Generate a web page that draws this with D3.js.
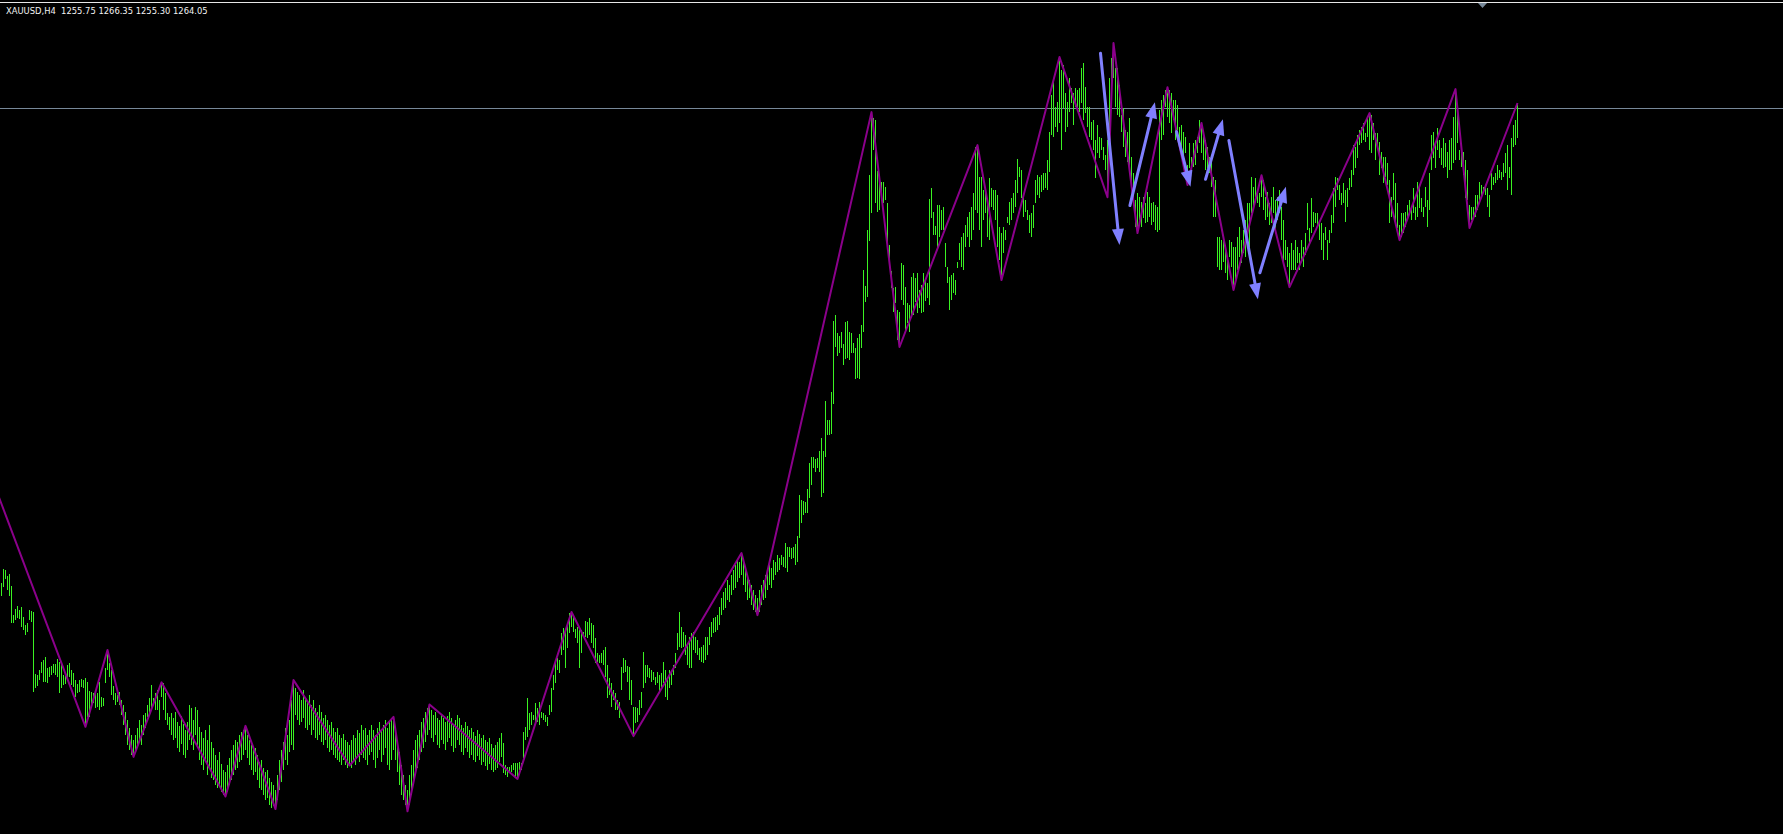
<!DOCTYPE html>
<html>
<head>
<meta charset="utf-8">
<script src="https://cdn.jsdelivr.net/npm/d3@7"></script>
<style>
  body { margin: 0; background: #000; overflow: hidden; }
</style>
</head>
<body>
<svg id="chart"></svg>
<script>
// XAUUSD H4 - bar highs / lows (one value per 4h bar)
const symbol = 'XAUUSD,H4';
const lastBar = [1255.75, 1266.35, 1255.30, 1264.05]; // open high low close
const bidPrice = 1264.7;

const highs = [
  1116.4, 1120.7, 1120.4, 1118.5, 1119.2, 1115.4, 1106.3, 1108.2, 1109.2, 1107.9,
  1108.9, 1105.7, 1103.2, 1103.9, 1107.9, 1107.6, 1107.3, 1087.9, 1087.6, 1089.2,
  1091.7, 1092.3, 1093.2, 1089.8, 1090.1, 1090.4, 1091.0, 1091.0, 1092.6, 1091.7,
  1090.7, 1087.6, 1087.3, 1090.7, 1091.3, 1089.2, 1088.2, 1086.0, 1084.8, 1086.0,
  1086.3, 1086.0, 1086.7, 1085.4, 1082.6, 1082.3, 1082.0, 1082.3, 1082.0, 1085.4,
  1080.7, 1080.4, 1089.8, 1095.4, 1091.3, 1089.2, 1084.2, 1082.0, 1081.4, 1082.3,
  1079.8, 1078.2, 1076.0, 1073.5, 1071.0, 1068.8, 1067.3, 1068.8, 1071.0, 1073.5,
  1071.9, 1075.1, 1075.7, 1078.2, 1080.4, 1084.4, 1080.4, 1081.9, 1082.9, 1079.8,
  1085.4, 1085.1, 1081.9, 1075.7, 1074.4, 1075.7, 1074.1, 1076.0, 1072.9, 1071.6,
  1074.8, 1072.3, 1070.4, 1072.9, 1078.2, 1077.3, 1073.5, 1077.6, 1076.6, 1071.3,
  1069.8, 1067.9, 1070.4, 1067.3, 1071.9, 1066.6, 1064.8, 1062.6, 1061.0, 1063.5,
  1059.8, 1057.9, 1057.3, 1059.4, 1061.6, 1064.1, 1065.7, 1067.3, 1066.6, 1068.8,
  1069.8, 1070.4, 1071.7, 1068.8, 1067.3, 1065.7, 1064.1, 1064.8, 1062.6, 1060.4,
  1061.0, 1058.5, 1057.3, 1057.9, 1055.4, 1054.1, 1053.2, 1051.6, 1056.3, 1061.0,
  1064.1, 1066.6, 1071.0, 1068.8, 1073.5, 1079.8, 1086.0, 1083.5, 1082.3, 1081.3,
  1079.8, 1082.9, 1080.4, 1079.1, 1081.3, 1078.2, 1079.8, 1077.3, 1076.0, 1078.2,
  1076.0, 1074.1, 1075.1, 1073.5, 1071.9, 1072.9, 1071.0, 1069.8, 1071.0, 1068.8,
  1067.9, 1069.1, 1067.3, 1066.6, 1065.7, 1067.3, 1068.8, 1067.9, 1070.4, 1069.4,
  1071.9, 1070.4, 1071.0, 1068.8, 1070.4, 1071.9, 1070.4, 1068.8, 1071.0, 1072.9,
  1070.4, 1071.9, 1073.5, 1071.0, 1072.9, 1073.5, 1074.5, 1070.4, 1067.3, 1063.5,
  1059.4, 1056.3, 1053.2, 1051.6, 1056.3, 1059.4, 1064.1, 1067.3, 1068.8, 1070.4,
  1072.9, 1074.1, 1076.0, 1077.3, 1078.4, 1076.6, 1075.1, 1076.0, 1074.1, 1073.5,
  1075.4, 1074.1, 1072.9, 1074.8, 1076.0, 1074.1, 1072.3, 1073.5, 1075.1, 1074.1,
  1071.9, 1071.0, 1072.9, 1071.6, 1070.4, 1071.0, 1069.8, 1068.5, 1070.4, 1069.1,
  1067.9, 1068.8, 1067.3, 1066.6, 1067.9, 1066.0, 1064.8, 1065.7, 1066.6, 1067.9,
  1069.4, 1066.3, 1059.4, 1058.8, 1058.8, 1059.4, 1060.1, 1060.1, 1060.1, 1060.4,
  1060.1, 1069.8, 1071.3, 1080.4, 1075.7, 1076.0, 1075.1, 1078.8, 1077.3, 1079.1,
  1076.0, 1075.7, 1075.1, 1074.4, 1078.2, 1083.5, 1087.6, 1092.3, 1092.9, 1092.3,
  1100.7, 1102.3, 1101.6, 1103.2, 1106.9, 1107.3, 1106.3, 1101.9, 1102.6, 1101.6,
  1101.6, 1101.0, 1104.4, 1104.1, 1105.4, 1103.8, 1103.2, 1099.1, 1094.4, 1093.8,
  1094.4, 1095.4, 1096.3, 1090.7, 1086.6, 1085.1, 1082.9, 1081.9, 1079.8, 1079.1,
  1090.1, 1092.9, 1092.3, 1090.4, 1090.1, 1086.0, 1077.6, 1077.6, 1077.3, 1079.8,
  1082.3, 1094.8, 1090.7, 1090.7, 1089.8, 1089.1, 1088.5, 1086.9, 1088.5, 1087.6,
  1088.2, 1091.6, 1089.1, 1086.6, 1089.1, 1088.5, 1090.7, 1094.4, 1100.7, 1107.3,
  1102.6, 1101.0, 1100.1, 1096.9, 1099.4, 1100.7, 1101.0, 1099.4, 1098.5, 1096.0,
  1096.3, 1096.9, 1099.4, 1099.4, 1102.6, 1104.1, 1105.4, 1105.7, 1106.3, 1108.8,
  1111.6, 1113.5, 1114.8, 1117.3, 1115.7, 1118.8, 1120.4, 1121.9, 1123.5, 1122.9,
  1125.7, 1123.5, 1121.0, 1118.8, 1117.3, 1115.7, 1114.1, 1112.6, 1111.6, 1114.1,
  1115.7, 1117.3, 1118.8, 1120.4, 1121.9, 1121.0, 1123.5, 1122.9, 1125.1, 1124.1,
  1125.1, 1124.4, 1128.8, 1127.6, 1127.6, 1127.3, 1127.6, 1128.5, 1131.0, 1143.8,
  1142.3, 1141.9, 1141.6, 1145.7, 1153.8, 1155.7, 1155.7, 1155.1, 1155.4, 1157.6,
  1161.6, 1157.6, 1173.2, 1167.3, 1167.3, 1176.0, 1198.2, 1200.1, 1194.4, 1193.5,
  1194.8, 1191.0, 1197.9, 1198.2, 1194.8, 1194.4, 1191.3, 1189.8, 1192.9, 1194.1,
  1196.9, 1214.1, 1209.1, 1226.6, 1243.8, 1263.5, 1261.6, 1261.0, 1245.1, 1242.9,
  1241.6, 1241.6, 1240.1, 1235.1, 1221.9, 1213.8, 1208.5, 1208.8, 1201.6, 1201.0,
  1216.3, 1215.7, 1208.8, 1203.8, 1203.2, 1211.9, 1213.2, 1211.6, 1213.2, 1207.9,
  1209.4, 1213.2, 1211.6, 1210.1, 1236.3, 1239.8, 1232.3, 1227.9, 1234.4, 1234.4,
  1232.9, 1233.8, 1222.6, 1215.1, 1211.9, 1212.6, 1213.2, 1211.0, 1216.6, 1222.6,
  1224.4, 1225.7, 1228.2, 1230.7, 1232.3, 1233.8, 1238.2, 1252.6, 1253.2, 1243.2,
  1243.2, 1239.1, 1240.1, 1236.0, 1242.9, 1239.8, 1239.1, 1239.1, 1237.6, 1227.6,
  1225.7, 1227.6, 1226.6, 1230.7, 1235.4, 1236.6, 1238.2, 1242.3, 1248.8, 1246.3,
  1245.4, 1237.6, 1236.0, 1232.9, 1231.3, 1231.9, 1234.4, 1242.3, 1243.8, 1243.2,
  1243.8, 1244.4, 1244.4, 1248.5, 1257.3, 1268.8, 1273.5, 1265.1, 1266.6, 1280.7,
  1276.6, 1278.2, 1269.4, 1266.6, 1274.1, 1271.0, 1269.4, 1271.0, 1270.4, 1271.0,
  1277.3, 1278.8, 1271.3, 1265.1, 1265.1, 1260.4, 1261.0, 1254.8, 1259.4, 1255.7,
  1255.4, 1252.6, 1250.1, 1254.8, 1274.1, 1280.4, 1285.1, 1277.3, 1277.3, 1271.9,
  1262.6, 1264.8, 1257.9, 1257.3, 1261.6, 1249.4, 1244.4, 1236.0, 1238.2, 1236.9,
  1235.4, 1236.9, 1235.1, 1238.5, 1236.9, 1235.1, 1235.4, 1234.4, 1233.8, 1264.1,
  1267.3, 1268.8, 1270.4, 1271.3, 1270.4, 1269.4, 1267.3, 1267.3, 1265.7, 1258.8,
  1259.4, 1257.3, 1255.7, 1246.9, 1253.8, 1249.4, 1253.8, 1254.8, 1255.7, 1261.0,
  1260.1, 1256.9, 1254.8, 1252.6, 1249.4, 1248.5, 1243.2, 1242.3, 1224.4, 1224.4,
  1223.5, 1223.5, 1221.9, 1217.3, 1223.5, 1222.9, 1221.3, 1221.3, 1224.4, 1227.6,
  1223.5, 1226.6, 1229.8, 1235.1, 1235.1, 1243.2, 1240.1, 1242.9, 1238.5, 1238.2,
  1243.8, 1242.3, 1236.9, 1238.5, 1235.1, 1236.9, 1240.1, 1236.0, 1236.9, 1239.1,
  1233.8, 1229.8, 1223.5, 1221.3, 1219.4, 1222.6, 1220.4, 1223.5, 1221.3, 1219.4,
  1223.5, 1221.3, 1225.7, 1235.1, 1227.3, 1236.6, 1232.3, 1231.9, 1231.9, 1229.1,
  1228.8, 1225.7, 1227.6, 1223.5, 1226.6, 1231.3, 1239.8, 1243.2, 1242.9, 1240.7,
  1238.2, 1241.3, 1239.1, 1239.8, 1242.9, 1245.4, 1253.2, 1252.6, 1256.3, 1257.9,
  1258.8, 1260.1, 1256.9, 1261.6, 1263.2, 1262.6, 1260.1, 1256.9, 1256.9, 1254.1,
  1251.0, 1249.4, 1249.4, 1247.6, 1242.3, 1236.9, 1244.4, 1241.3, 1235.1, 1228.2,
  1231.9, 1231.9, 1232.3, 1234.4, 1236.0, 1233.8, 1239.8, 1233.8, 1241.6, 1240.1,
  1236.6, 1233.8, 1240.1, 1236.0, 1244.4, 1256.3, 1257.3, 1253.8, 1258.5, 1254.8,
  1252.3, 1255.4, 1253.8, 1251.0, 1254.8, 1255.4, 1261.9, 1270.7, 1264.8, 1251.6,
  1251.6, 1251.0, 1248.5, 1245.4, 1234.4, 1233.8, 1233.8, 1237.6, 1237.6, 1241.6,
  1240.7, 1240.1, 1240.1, 1239.8, 1237.6, 1244.4, 1243.2, 1244.4, 1246.9, 1245.4,
  1244.8, 1247.6, 1250.7, 1253.2, 1246.3, 1255.4, 1259.4, 1261.0, 1266.35
];

const lows = [
  1112.3, 1115.1, 1117.6, 1114.2, 1112.3, 1103.9, 1103.9, 1104.8, 1105.4, 1105.1,
  1102.6, 1101.7, 1100.1, 1101.0, 1104.8, 1104.2, 1082.3, 1083.5, 1084.2, 1086.0,
  1088.2, 1085.4, 1085.4, 1085.1, 1087.0, 1087.6, 1088.2, 1087.6, 1087.0, 1082.0,
  1083.5, 1084.5, 1084.8, 1086.7, 1087.0, 1084.5, 1083.9, 1080.7, 1082.0, 1082.3,
  1083.9, 1083.5, 1071.4, 1074.5, 1074.5, 1077.3, 1078.9, 1077.3, 1077.6, 1076.7,
  1077.6, 1077.9, 1085.1, 1089.2, 1087.0, 1081.4, 1079.8, 1078.2, 1079.2, 1078.2,
  1075.1, 1071.9, 1068.8, 1065.7, 1064.1, 1062.6, 1062.0, 1063.5, 1064.8, 1067.3,
  1065.7, 1068.8, 1071.0, 1074.4, 1075.7, 1076.6, 1078.2, 1076.6, 1076.6, 1073.5,
  1080.7, 1076.6, 1073.5, 1071.9, 1070.4, 1068.8, 1067.3, 1067.9, 1064.8, 1063.5,
  1066.0, 1062.6, 1061.6, 1064.1, 1067.3, 1065.7, 1064.1, 1068.8, 1065.7, 1061.0,
  1059.4, 1057.9, 1060.4, 1056.3, 1058.5, 1055.4, 1054.8, 1053.2, 1052.3, 1052.9,
  1051.0, 1050.1, 1049.6, 1051.0, 1053.2, 1054.8, 1056.3, 1057.9, 1058.5, 1060.4,
  1061.0, 1062.6, 1064.1, 1061.6, 1059.4, 1057.9, 1056.3, 1057.3, 1054.8, 1052.3,
  1051.6, 1050.1, 1048.5, 1049.1, 1046.9, 1046.0, 1046.6, 1045.7, 1048.5, 1051.6,
  1054.1, 1057.9, 1061.0, 1059.4, 1063.5, 1065.7, 1064.1, 1075.1, 1073.5, 1071.9,
  1072.9, 1074.1, 1071.0, 1070.4, 1071.9, 1068.8, 1070.4, 1067.9, 1067.3, 1068.8,
  1066.6, 1065.7, 1067.3, 1064.8, 1063.5, 1064.1, 1062.6, 1061.6, 1061.0, 1060.4,
  1059.4, 1061.0, 1059.4, 1058.5, 1059.3, 1058.5, 1061.0, 1059.4, 1061.6, 1060.4,
  1062.6, 1061.6, 1061.0, 1059.4, 1062.6, 1063.5, 1061.0, 1058.5, 1061.6, 1064.1,
  1060.4, 1062.6, 1064.8, 1059.4, 1057.9, 1061.0, 1064.1, 1061.0, 1057.3, 1053.2,
  1050.1, 1048.5, 1046.9, 1045.0, 1046.9, 1050.1, 1053.2, 1056.3, 1058.5, 1061.0,
  1063.5, 1064.8, 1066.6, 1068.8, 1070.4, 1067.9, 1066.6, 1068.8, 1065.7, 1064.8,
  1067.3, 1066.0, 1064.1, 1066.6, 1067.9, 1065.4, 1063.5, 1064.8, 1067.3, 1065.7,
  1063.5, 1062.6, 1064.8, 1063.5, 1061.6, 1062.6, 1061.0, 1060.4, 1062.3, 1061.0,
  1059.4, 1060.4, 1059.1, 1057.9, 1059.8, 1057.9, 1057.3, 1057.9, 1058.5, 1060.4,
  1061.9, 1056.9, 1056.3, 1055.7, 1056.9, 1057.3, 1057.9, 1055.7, 1055.1, 1057.9,
  1057.9, 1061.6, 1067.3, 1068.2, 1070.4, 1071.9, 1073.5, 1072.3, 1072.9, 1071.9,
  1074.1, 1073.5, 1072.9, 1071.6, 1075.1, 1076.0, 1082.9, 1085.1, 1089.1, 1088.2,
  1093.8, 1095.4, 1089.8, 1096.0, 1100.7, 1102.6, 1101.0, 1099.1, 1097.6, 1089.8,
  1094.4, 1099.4, 1099.4, 1099.1, 1100.1, 1097.6, 1096.0, 1091.3, 1091.6, 1091.3,
  1091.3, 1090.7, 1086.9, 1080.4, 1081.3, 1077.6, 1079.8, 1076.6, 1076.6, 1074.1,
  1082.9, 1088.2, 1088.5, 1085.4, 1079.8, 1078.2, 1068.5, 1072.6, 1072.9, 1075.1,
  1077.3, 1083.5, 1085.1, 1086.9, 1086.6, 1085.4, 1086.0, 1084.4, 1085.1, 1082.3,
  1083.8, 1085.1, 1080.7, 1079.8, 1083.5, 1084.4, 1087.6, 1089.8, 1095.4, 1096.3,
  1096.0, 1096.3, 1093.8, 1090.7, 1089.8, 1089.8, 1095.4, 1094.4, 1093.8, 1092.3,
  1091.6, 1091.3, 1092.3, 1093.8, 1097.0, 1099.4, 1100.7, 1101.0, 1101.6, 1103.2,
  1106.3, 1107.9, 1108.5, 1111.0, 1110.4, 1112.6, 1114.1, 1114.8, 1116.6, 1117.9,
  1118.8, 1115.7, 1113.5, 1111.0, 1111.6, 1109.4, 1107.9, 1107.3, 1106.3, 1107.3,
  1109.4, 1111.0, 1111.6, 1114.1, 1115.7, 1114.8, 1117.3, 1118.8, 1119.8, 1120.4,
  1121.9, 1121.3, 1121.0, 1119.8, 1124.4, 1123.8, 1124.1, 1121.9, 1122.9, 1130.4,
  1135.1, 1137.6, 1138.2, 1138.2, 1142.9, 1146.9, 1152.3, 1151.0, 1152.3, 1151.0,
  1143.2, 1144.4, 1155.7, 1162.6, 1162.6, 1162.9, 1172.3, 1190.1, 1187.3, 1188.2,
  1189.8, 1184.4, 1186.3, 1186.6, 1186.0, 1188.2, 1188.2, 1180.1, 1180.4, 1180.1,
  1189.8, 1194.8, 1204.1, 1205.7, 1223.2, 1231.9, 1251.6, 1235.1, 1232.3, 1232.9,
  1237.6, 1235.1, 1236.0, 1221.3, 1217.3, 1208.5, 1201.0, 1203.8, 1192.3, 1190.1,
  1204.8, 1203.2, 1194.4, 1197.6, 1194.8, 1199.4, 1200.1, 1204.1, 1200.7, 1202.3,
  1200.7, 1201.0, 1204.4, 1205.4, 1203.2, 1230.4, 1225.1, 1225.1, 1221.3, 1224.4,
  1226.6, 1226.6, 1215.1, 1210.1, 1201.6, 1204.8, 1206.9, 1206.3, 1214.8, 1217.3,
  1215.1, 1214.1, 1221.3, 1224.4, 1221.3, 1223.5, 1226.6, 1232.9, 1231.9, 1226.6,
  1221.3, 1229.8, 1231.9, 1224.4, 1223.5, 1233.8, 1232.9, 1229.8, 1221.3, 1217.3,
  1211.0, 1219.4, 1223.5, 1228.8, 1228.2, 1229.8, 1231.9, 1233.8, 1238.2, 1243.2,
  1236.6, 1230.7, 1232.3, 1229.8, 1225.7, 1224.4, 1227.3, 1235.1, 1237.6, 1236.6,
  1238.5, 1239.1, 1239.8, 1239.1, 1244.8, 1256.3, 1255.7, 1258.8, 1257.3, 1260.1,
  1251.6, 1264.8, 1257.3, 1258.8, 1263.5, 1266.3, 1259.4, 1265.1, 1264.8, 1263.5,
  1266.3, 1261.0, 1263.2, 1258.8, 1255.7, 1254.8, 1251.6, 1242.9, 1250.7, 1249.1,
  1251.6, 1248.5, 1245.4, 1236.9, 1257.9, 1269.4, 1274.1, 1265.1, 1262.6, 1261.9,
  1257.3, 1252.6, 1249.4, 1247.9, 1244.4, 1241.3, 1236.9, 1227.6, 1225.7, 1229.8,
  1227.6, 1230.4, 1228.8, 1229.1, 1230.7, 1228.2, 1229.1, 1226.6, 1226.0, 1226.6,
  1254.8, 1256.3, 1265.1, 1261.9, 1260.1, 1256.9, 1261.0, 1254.8, 1257.9, 1254.1,
  1251.6, 1250.1, 1250.7, 1240.7, 1246.0, 1244.8, 1246.3, 1246.9, 1250.7, 1253.8,
  1250.7, 1248.5, 1245.4, 1246.0, 1244.4, 1240.1, 1230.7, 1230.7, 1215.1, 1214.1,
  1214.1, 1216.6, 1213.2, 1211.0, 1218.2, 1215.1, 1207.9, 1211.0, 1214.1, 1218.2,
  1216.3, 1219.4, 1218.2, 1226.6, 1221.3, 1231.9, 1232.9, 1236.9, 1235.1, 1233.8,
  1236.9, 1232.9, 1229.8, 1230.7, 1228.2, 1228.8, 1231.9, 1226.6, 1229.8, 1231.9,
  1223.5, 1216.3, 1217.3, 1215.1, 1208.8, 1214.1, 1214.1, 1214.1, 1216.3, 1214.1,
  1216.6, 1215.1, 1218.8, 1226.6, 1222.9, 1225.7, 1227.6, 1228.8, 1227.6, 1223.5,
  1220.4, 1217.3, 1223.5, 1217.3, 1222.6, 1225.7, 1228.8, 1233.8, 1239.1, 1236.0,
  1234.4, 1235.1, 1229.1, 1233.8, 1239.1, 1240.1, 1243.8, 1246.0, 1249.1, 1253.2,
  1253.8, 1254.8, 1254.1, 1255.7, 1251.6, 1250.7, 1254.8, 1248.5, 1252.3, 1243.8,
  1246.0, 1241.3, 1243.2, 1240.7, 1228.8, 1230.7, 1236.0, 1228.2, 1227.3, 1223.5,
  1224.4, 1225.7, 1227.6, 1229.8, 1231.9, 1229.8, 1231.9, 1229.8, 1230.7, 1233.5,
  1232.3, 1230.7, 1233.8, 1227.6, 1232.9, 1245.4, 1249.1, 1246.0, 1251.6, 1249.1,
  1246.9, 1246.0, 1246.3, 1242.9, 1245.4, 1245.4, 1247.6, 1248.5, 1253.8, 1248.5,
  1246.3, 1243.8, 1236.6, 1236.0, 1227.3, 1229.8, 1230.7, 1230.7, 1232.9, 1236.0,
  1236.9, 1238.2, 1237.6, 1233.8, 1230.7, 1239.1, 1240.7, 1241.3, 1242.3, 1242.9,
  1242.3, 1243.2, 1244.4, 1239.1, 1242.9, 1237.6, 1252.6, 1253.2, 1255.30
];

// ZigZag pivots (bar index, price); the first one lies left of the visible window
const zzBar   = [-15, 42, 53, 66, 80, 112, 122, 137, 146, 174, 196, 203, 214, 258, 285, 316, 370, 378,
                 435, 449, 488, 500, 529, 553, 556, 568, 583, 593, 600, 616, 630, 644, 684, 699, 727, 734, 758];
const zzPrice = [1165.9, 1071.4, 1095.4, 1062.0, 1085.3, 1049.6, 1071.7, 1045.7, 1086.0, 1059.3, 1074.5,
                 1045.0, 1078.4, 1055.1, 1107.3, 1068.5, 1125.7, 1106.3, 1263.5, 1190.1, 1253.2, 1211.0,
                 1280.7, 1236.9, 1285.1, 1225.7, 1271.3, 1240.7, 1260.1, 1207.9, 1243.8, 1208.8, 1263.2,
                 1223.5, 1270.7, 1227.3, 1266.35];

// hand drawn arrows: start (bar, price) -> tip (bar, price)
const arrowFromBar   = [549.5, 564.2, 587.5, 602.0, 613.7, 629.2];
const arrowFromPrice = [1281.9, 1234.3, 1257.4, 1242.5, 1254.6, 1213.3];
const arrowToBar     = [559.0, 576.7, 594.5, 610.7, 628.2, 642.2];
const arrowToPrice   = [1222.0, 1266.6, 1240.2, 1261.3, 1205.0, 1240.2];

const width = 1783;
const height = 834;

const svg = d3.select('#chart')
    .attr('width', width)
    .attr('height', height)
    .style('display', 'block');

svg.append('rect')
    .attr('width', width)
    .attr('height', height)
    .attr('fill', '#000');

const x = d3.scaleLinear()
    .domain([0, highs.length - 1])
    .range([1, 1 + 2 * (highs.length - 1)]);

const y = d3.scaleLinear()
    .domain([1037.9, 1298.54])
    .range([height, 0]);

const bars = highs.map((h, i) => ({ i, high: h, low: lows[i] }));

// top border of the chart window
svg.append('line')
    .attr('x1', 0).attr('x2', width)
    .attr('y1', 2.5).attr('y2', 2.5)
    .attr('stroke', '#e6e6e6')
    .attr('stroke-width', 1);

// bid line
svg.append('line')
    .attr('x1', 0).attr('x2', width)
    .attr('y1', Math.round(y(bidPrice)) + 0.5)
    .attr('y2', Math.round(y(bidPrice)) + 0.5)
    .attr('stroke', '#778899')
    .attr('stroke-width', 1);

// OHLC bars (at this zoom only the high-low stroke shows)
svg.append('g')
    .attr('shape-rendering', 'crispEdges')
    .selectAll('.bar')
    .data(bars)
    .enter().append('rect')
    .attr('class', 'bar')
    .attr('x', d => x(d.i))
    .attr('y', d => y(d.high))
    .attr('width', 1)
    .attr('height', d => Math.max(1, y(d.low) - y(d.high)))
    .attr('fill', '#3af222');

// zigzag
const zz = zzBar.map((b, k) => ({ bar: b, price: zzPrice[k] }));
svg.append('path')
    .datum(zz)
    .attr('fill', 'none')
    .attr('stroke', '#8b008b')
    .attr('stroke-width', 2)
    .attr('stroke-linejoin', 'round')
    .attr('d', d3.line().x(d => x(d.bar) + 0.5).y(d => y(d.price)));

// arrows
const arrows = arrowFromBar.map((b, k) => ({
    b0: b, p0: arrowFromPrice[k], b1: arrowToBar[k], p1: arrowToPrice[k]
}));
const ag = svg.append('g');
arrows.forEach(a => {
    const x1 = x(a.b0) + 0.5, y1 = y(a.p0);
    const x2 = x(a.b1) + 0.5, y2 = y(a.p1);
    const len = Math.hypot(x2 - x1, y2 - y1);
    const ux = (x2 - x1) / len, uy = (y2 - y1) / len;
    const headLen = 16, headW = 6;
    const bx = x2 - ux * headLen, by = y2 - uy * headLen;
    ag.append('line')
        .attr('x1', x1).attr('y1', y1)
        .attr('x2', bx + ux * 2).attr('y2', by + uy * 2)
        .attr('stroke', '#8080ff')
        .attr('stroke-width', 3)
        .attr('stroke-linecap', 'round');
    ag.append('path')
        .attr('d', `M${x2},${y2}L${bx - uy * headW},${by + ux * headW}L${bx + uy * headW},${by - ux * headW}Z`)
        .attr('fill', '#8080ff');
});

// chart shift marker
svg.append('path')
    .attr('d', 'M1478,3L1487,3L1482.5,8Z')
    .attr('fill', '#778899');

// title
svg.append('text')
    .attr('x', 6)
    .attr('y', 14)
    .style('white-space', 'pre')
    .attr('font-family', 'DejaVu Sans')
    .attr('font-size', '8.4px')
    .attr('fill', '#f2f2f2')
    .text(symbol + '  ' + lastBar.map(v => v.toFixed(2)).join(' '));
</script>
</body>
</html>
